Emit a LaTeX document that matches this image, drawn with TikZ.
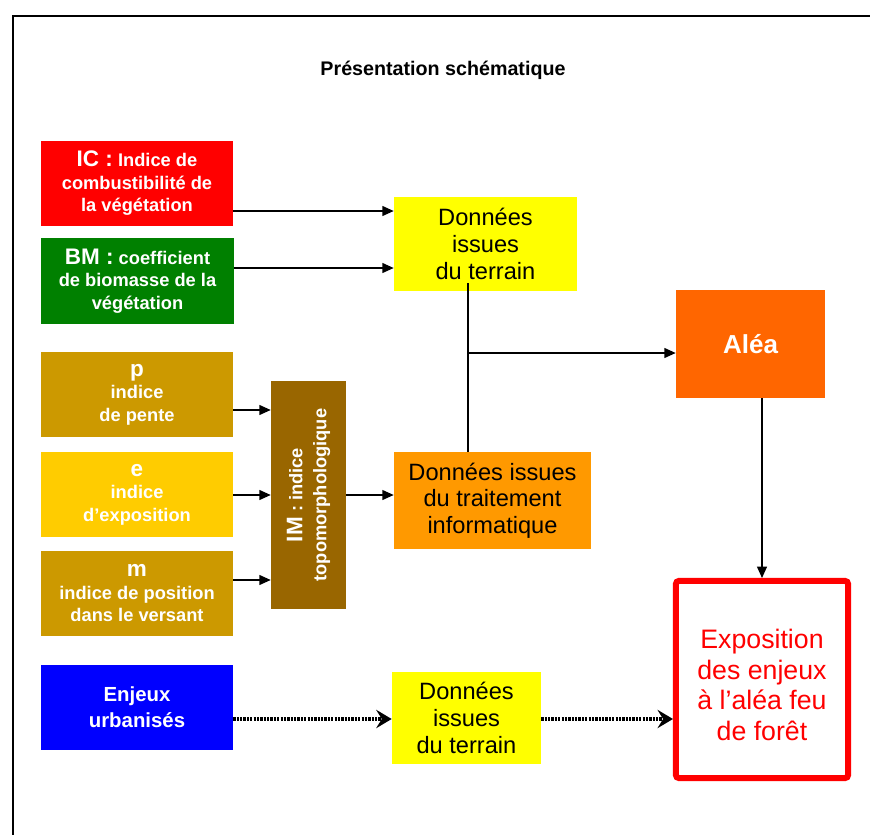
\documentclass[tikz,border=0pt]{standalone}
\usepackage{fontspec}
\setmainfont{Liberation Sans}
\usetikzlibrary{arrows.meta}

\definecolor{icred}{HTML}{FF0000}
\definecolor{bmgreen}{HTML}{008000}
\definecolor{ochre}{HTML}{CC9900}
\definecolor{gold}{HTML}{FFCC00}
\definecolor{brown}{HTML}{996600}
\definecolor{field}{HTML}{FFFF00}
\definecolor{proc}{HTML}{FF9900}
\definecolor{hazard}{HTML}{FF6600}
\definecolor{urban}{HTML}{0000FF}

\begin{document}
\begin{tikzpicture}
  [x=0.025cm,y=-0.025cm,
   every node/.style={rectangle,inner sep=0pt,align=center},
   inbox/.style={minimum width=4.8cm,minimum height=2.125cm,text=white,
     font=\fontsize{13}{16}\selectfont\bfseries},
   databox/.style={fill=field,font=\fontsize{16.8}{19}\selectfont},
   arr/.style={line width=0.9pt,-{Triangle[length=8pt,width=7pt]}},
   dotarr/.style={line width=2.4pt,dash pattern=on 1.6pt off 0.8pt,
     -{Stealth[length=11pt,width=13pt,inset=4pt]}}]
  \useasboundingbox (0,0) rectangle (870,835);
  \draw[line width=1.8pt] (13,835) -- (13,16) -- (870,16);

  \node (title) at (443,70) {\fontsize{14}{16}\selectfont\bfseries Présentation schématique};

  \node (ic)[inbox,fill=icred] at (137,183.5) {{\fontsize{16}{18}\selectfont IC :} Indice de\\combustibilité de\\la végétation};
  \node (bm)[inbox,fill=bmgreen] at (137.5,281) {{\fontsize{16}{18}\selectfont BM :} coefficient\\de biomasse de la\\végétation};
  \node (p)[inbox,fill=ochre] at (137,394.5) {{\fontsize{16}{18}\selectfont p}\\indice\\de pente};
  \node (e)[inbox,fill=gold] at (137,494.5) {{\fontsize{16}{18}\selectfont e}\\indice\\d’exposition};
  \node (m)[inbox,fill=ochre] at (137,593.5) {{\fontsize{16}{18}\selectfont m}\\indice de position\\dans le versant};
  \node (enj)[inbox,fill=urban,font=\fontsize{14.5}{18.5}\selectfont\bfseries] at (137,707.5) {Enjeux\\urbanisés};

  \node (im)[fill=brown,rotate=90,minimum width=5.7cm,minimum height=1.875cm,text=white,
    font=\fontsize{13}{17}\selectfont\bfseries] at (308.5,495) {{\fontsize{16}{18}\selectfont IM} : indice\\topomorphologique};

  \node (d1)[databox,minimum width=4.575cm,minimum height=2.35cm] at (485.5,244) {Données\\issues\\du terrain};
  \node (trt)[databox,fill=proc,minimum width=4.925cm,minimum height=2.425cm] at (492.5,500.5) {Données issues\\du traitement\\informatique};
  \node (d2)[databox,minimum width=3.725cm,minimum height=2.3cm] at (466.5,718) {Données\\issues\\du terrain};

  \node (alea)[fill=hazard,minimum width=3.725cm,minimum height=2.7cm,text=white,
    font=\fontsize{18.5}{21}\selectfont\bfseries] at (750.5,344) {Aléa};
  \node (expo)[draw=icred,line width=4.25pt,rounded corners=2pt,fill=white,text=icred,
    minimum width=4.3cm,minimum height=4.925cm,font=\fontsize{19}{22}\selectfont] at (762,679.5)
    {\rule{0pt}{21.5pt}Exposition\\des enjeux\\à l’aléa feu\\de forêt};

  \coordinate (r1) at (0,211);
  \coordinate (r2) at (0,268);
  \coordinate (r3) at (0,410);
  \coordinate (r4) at (0,495);
  \coordinate (r5) at (0,580);
  \coordinate (r6) at (0,719);
  \coordinate (jtop) at (468,283);
  \coordinate (jmid) at (468,353);

  \foreach \from/\to/\row in {ic.east/d1.west/r1,bm.east/d1.west/r2,p.east/im.north/r3,e.east/im.north/r4,m.east/im.north/r5,im.south/trt.west/r4}
    \draw[arr] (\from |- \row) -- (\to |- \row);

  \draw[line width=0.9pt] (jtop) -- (trt.north -| jtop);
  \draw[arr] (jmid) -- (alea.west |- jmid);
  \draw[arr] (alea.south -| expo.north) -- (expo.north);

  \foreach \from/\to in {enj.east/d2.west,d2.east/expo.west}
    \draw[dotarr] (\from |- r6) -- (\to |- r6);

\end{tikzpicture}
\end{document}
